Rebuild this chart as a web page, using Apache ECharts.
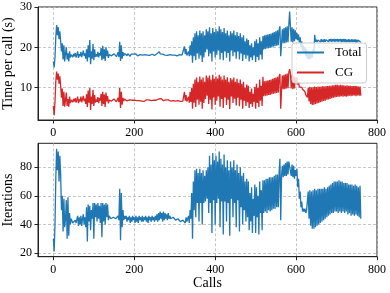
<!DOCTYPE html>
<html><head><meta charset="utf-8">
<script src="https://cdn.jsdelivr.net/npm/echarts@6/dist/echarts.min.js"></script>
<style>html,body{margin:0;padding:0;background:#fff}#c{width:390px;height:293px}</style>
</head><body><div id="c"></div>
<script>
// sampled every 2 calls, starting at call 0
const callStep = 2;
const xTicks = [0, 200, 400, 600, 800];
const timeTicks = [10, 20, 30];
const iterTicks = [20, 40, 60, 80];

const totalTime = [
16.5,15.0,17.5,22.5,25.5,23.0,25.0,22.0,24.0,21.5,
19.0,21.0,17.0,20.5,16.5,18.5,20.0,17.0,18.5,16.5,
19.0,17.5,18.2,18.0,17.6,18.4,17.8,18.6,17.5,18.2,
19.0,17.4,18.3,17.8,18.9,17.6,18.4,19.2,17.9,18.5,
17.2,19.5,16.5,20.5,17.5,21.8,15.8,19.0,17.2,20.8,
16.8,19.5,17.6,18.3,17.7,18.9,17.5,18.6,18.0,19.8,
16.8,20.4,17.2,19.5,16.6,20.0,17.8,19.2,17.4,18.2,
17.8,18.5,17.9,18.3,17.6,18.4,18.0,18.6,17.7,18.2,
18.8,17.6,21.4,16.6,20.5,17.2,18.8,17.9,18.5,18.1,
18.3,17.9,18.4,18.0,18.2,17.8,18.3,18.1,17.9,18.3,
18.2,18.0,18.4,18.1,17.9,18.3,18.0,18.2,18.4,18.0,
18.1,18.3,17.9,18.2,18.0,18.3,18.1,17.9,18.2,18.0,
18.2,18.1,18.3,17.9,18.2,18.0,18.3,18.1,18.4,18.2,
18.5,18.9,18.4,18.7,18.2,18.3,18.0,18.4,18.1,18.3,
18.2,18.0,18.3,18.1,18.2,17.9,18.2,18.1,18.0,18.2,
18.1,18.0,18.2,17.9,18.1,18.0,18.2,17.9,18.0,18.1,
18.0,18.2,20.2,18.3,19.6,18.0,18.5,19.0,17.8,20.5,
18.0,21.5,16.2,22.5,17.8,23.5,16.8,24.0,18.5,23.0,
17.2,24.2,18.0,23.5,16.4,24.0,17.5,23.0,18.8,24.5,
19.5,24.0,17.8,25.0,18.5,23.5,16.5,24.8,19.0,23.8,
17.5,24.5,18.2,24.0,19.2,25.2,17.0,24.5,18.6,23.8,
16.8,24.8,19.0,23.5,17.4,24.2,18.6,23.0,16.5,24.0,
19.2,23.5,17.8,24.2,18.8,23.0,17.2,23.8,19.0,22.8,
17.0,23.5,18.5,22.5,16.6,23.0,18.2,21.5,17.2,22.2,
18.0,21.8,16.5,20.5,17.5,21.0,16.8,20.0,18.0,21.5,
16.4,22.0,17.6,21.0,16.8,22.5,18.2,21.5,17.0,22.8,
19.5,23.0,19.6,23.1,19.7,23.2,19.8,23.3,19.9,23.4,
20.0,23.6,20.2,23.8,20.3,24.0,20.4,24.2,20.5,24.3,
25.2,17.8,20.8,24.5,21.0,24.8,21.0,25.0,21.2,25.2,
21.3,25.5,28.9,25.2,21.4,25.0,21.2,24.6,21.5,24.2,
22.0,23.6,21.8,23.2,21.2,22.5,20.0,21.5,19.2,20.5,
18.5,20.0,17.8,19.5,17.2,19.0,17.0,18.6,17.2,18.8,
17.5,19.5,18.5,23.1,21.4,21.9,21.3,21.8,21.4,22.0,
21.3,22.0,21.4,21.9,21.3,22.0,21.4,21.9,21.5,22.0,
21.4,22.0,21.5,22.1,21.4,22.0,21.5,22.1,21.4,22.0,
21.5,22.1,21.4,22.0,21.5,22.1,21.3,22.0,21.4,22.1,
21.4,22.0,21.3,21.9,21.4,22.0,21.3,21.9,21.4,22.0,
21.3,21.9,21.4,22.0,21.2,21.9,21.3,21.8,21.4,21.9,
21.2];

const cgTime = [
5.5,3.2,6.5,11.5,14.0,12.0,13.5,11.0,12.8,10.5,
7.5,9.8,5.5,9.0,5.3,7.0,8.8,5.5,7.2,5.3,
7.8,6.2,7.0,6.9,6.4,7.2,6.6,7.4,6.3,7.0,
7.8,6.2,7.1,6.6,7.8,6.4,7.2,8.0,6.7,7.3,
6.0,8.4,5.2,9.3,6.3,9.9,4.5,7.8,6.0,9.5,
5.5,8.2,6.3,7.1,6.5,7.7,6.2,7.4,6.8,8.5,
5.5,9.0,6.0,8.3,5.2,8.8,6.6,7.9,6.1,6.9,
6.6,7.3,6.7,7.1,6.4,7.2,6.8,7.4,6.5,7.0,
7.5,6.4,9.9,5.0,9.0,5.8,7.5,6.7,7.2,6.9,
7.0,6.7,7.1,6.8,7.0,6.6,7.1,6.9,6.7,7.0,
6.9,6.7,7.1,6.8,6.6,7.0,6.8,6.9,7.1,6.7,
6.9,7.0,6.6,6.9,6.8,7.0,6.9,6.7,7.0,6.8,
7.0,6.8,7.0,6.7,6.9,6.8,7.1,6.9,7.1,6.9,
7.2,7.4,7.0,7.3,6.9,7.0,6.8,7.1,6.8,7.0,
6.9,6.8,7.0,6.9,6.9,6.7,7.0,6.8,6.8,6.9,
6.8,6.7,6.9,6.6,6.8,6.7,6.9,6.6,6.7,6.8,
6.7,6.9,9.0,6.8,8.2,6.6,7.2,7.8,6.3,9.0,
6.5,10.0,4.8,11.0,6.3,12.0,5.2,12.5,7.0,11.5,
5.8,12.8,6.5,12.0,4.8,12.5,6.2,11.5,7.2,13.0,
8.0,12.5,6.0,13.0,7.0,12.0,4.6,13.2,7.6,12.2,
5.8,12.8,6.8,12.3,7.8,13.2,5.3,12.8,7.2,12.0,
5.0,13.0,7.6,12.0,5.7,12.6,7.0,11.5,4.7,12.4,
7.8,12.0,6.2,12.5,7.3,11.5,5.6,12.2,7.5,11.2,
5.4,12.0,7.0,11.0,4.8,11.5,6.8,10.0,5.5,10.8,
6.4,10.5,5.0,9.0,6.0,9.8,5.3,8.5,6.5,10.2,
4.8,11.0,6.2,10.0,5.2,12.0,6.8,10.5,5.5,12.7,
7.9,11.6,8.0,11.7,8.0,11.8,8.2,11.9,8.2,12.0,
8.4,12.2,8.5,12.4,8.6,12.5,8.7,12.7,8.8,12.8,
13.4,4.8,9.4,13.0,9.6,13.2,9.6,13.3,9.8,13.5,
9.9,13.8,14.6,13.5,9.8,13.2,9.6,12.8,9.8,12.5,
11.5,12.5,10.8,11.4,10.2,10.6,9.9,10.1,9.6,9.9,
9.4,9.0,8.2,7.8,7.6,10.0,6.6,10.2,6.0,10.1,
5.7,10.2,5.8,10.3,6.0,10.2,6.1,10.3,6.2,10.2,
6.4,10.3,6.5,10.4,6.7,10.3,6.8,10.4,7.0,10.4,
7.1,10.5,7.2,10.5,7.4,10.6,7.5,10.6,7.6,10.7,
7.7,10.7,7.8,10.6,7.8,10.7,7.9,10.6,7.8,10.6,
7.9,10.5,7.8,10.6,7.9,10.5,8.0,10.5,7.9,10.4,
8.0,10.4,8.1,10.5,7.9,10.4,8.1,10.3,8.0,10.3,
8.0];

const iterations = [
30,21,40,72,93,78,91,70,88,75,
50,60,35,58,38,44,57,30,59,32,
48,40,44,43,41,42,40,43,41,42,
46,39,45,40,46,39,44,47,40,45,
38,52,28,54,42,53,36,50,44,55,
30,55,45,54,42,55,44,53,41,55,
31,55,42,54,40,55,45,54,43,46,
45,44,45,44,45,44,45,44,44,45,
46,43,65,29,62,38,50,43,46,44,
46,42,45,43,46,41,45,42,46,43,
45,41,46,42,45,41,46,43,45,42,
46,42,45,43,46,42,45,41,46,43,
45,42,46,43,45,42,46,43,47,42,
48,43,49,44,48,42,49,43,48,44,
47,43,48,44,46,44,45,44,45,44,
44,43,44,43,44,43,43,42,43,43,
43,42,44,41,45,42,44,46,41,50,
44,62,30,70,50,78,45,79,55,76,
42,79,55,76,40,78,55,74,56,78,
58,80,48,88,55,82,34,90,57,85,
40,88,55,84,58,91,38,86,56,82,
33,89,56,80,42,85,55,78,32,84,
58,80,45,85,55,78,38,82,57,76,
35,80,52,74,40,76,50,70,42,72,
45,70,36,62,42,66,34,58,46,68,
34,66,45,60,33,70,48,64,36,71,
48,71,49,72,48,72,50,73,49,73,
50,73,51,74,51,75,52,75,52,76,
86,43,74,81,73,82,74,83,74,84,
75,84,85,83,74,82,73,81,72,78,
74,79,66,72,58,63,52,56,49,51,
49,51,48,50,49,63,44,64,39,63,
37,64,37,65,38,64,39,65,40,65,
41,65,42,65,43,66,44,65,45,66,
46,67,47,68,48,69,48,70,49,70,
49,70,48,71,49,70,48,70,49,69,
48,69,49,69,47,68,48,68,46,68,
47,67,46,68,47,67,46,66,45,67,
44];

const pairs = arr => arr.map((v, i) => [i * callStep, v]);
const FONT = 'Liberation Serif';
const txt = {fontFamily: FONT, color: '#000', fontSize: 12};

function xAx(idx, withName) {
  return {
    gridIndex: idx, type: 'value', min: -38, max: 800, interval: 200,
    axisLine: {show: true, onZero: false, lineStyle: {color: '#222', width: 1}},
    axisTick: {show: true, length: 3.5, inside: false, lineStyle: {color: '#222'},
               customValues: xTicks},
    axisLabel: Object.assign({margin: 7, customValues: xTicks}, txt),
    splitLine: {show: true, lineStyle: {color: '#b8b8b8', type: [3, 2], width: 0.8}},
    name: withName ? 'Calls' : '', nameLocation: 'middle', nameGap: 20, nameMoveOverlap: false,
    nameTextStyle: {fontFamily: FONT, color: '#000', fontSize: 14}
  };
}
function yAx(idx, min, max, interval, ticks, name) {
  return {
    gridIndex: idx, type: 'value', min: min, max: max, interval: interval,
    axisLine: {show: true, onZero: false, lineStyle: {color: '#222', width: 1}},
    axisTick: {show: true, length: 3.5, inside: false, lineStyle: {color: '#222'},
               customValues: ticks},
    axisLabel: Object.assign({margin: 6, customValues: ticks}, txt),
    splitLine: {show: true, lineStyle: {color: '#b8b8b8', type: [3, 2], width: 0.8}},
    name: name, nameLocation: 'middle', nameGap: 23, nameRotate: 90, nameMoveOverlap: false,
    nameTextStyle: {fontFamily: FONT, color: '#000', fontSize: 14}
  };
}

const chart = echarts.init(document.getElementById('c'), null, {renderer: 'canvas'});
chart.setOption({
  animation: false,
  backgroundColor: '#fff',
  grid: [
    {left: 38, top: 7, width: 339, height: 113, show: true, borderColor: '#222', borderWidth: 1,
     backgroundColor: 'transparent', containLabel: false, outerBoundsMode: 'none'},
    {left: 38, top: 143.3, width: 339, height: 113.4, show: true, borderColor: '#222', borderWidth: 1,
     backgroundColor: 'transparent', containLabel: false, outerBoundsMode: 'none'}
  ],
  xAxis: [xAx(0, false), xAx(1, true)],
  yAxis: [
    yAx(0, 2, 30, 10, timeTicks, 'Time per call (s)'),
    yAx(1, 17.4, 96.8, 20, iterTicks, 'Iterations')
  ],
  legend: {
    data: ['Total', 'CG'], orient: 'vertical', left: 292, top: 43,
    icon: 'rect', itemWidth: 27, itemHeight: 2, itemGap: 7,
    padding: [3, 5, 4, 5],
    backgroundColor: 'rgba(255,255,255,0.8)', borderColor: '#cccccc', borderWidth: 1, borderRadius: 3,
    textStyle: {fontFamily: FONT, color: '#000', fontSize: 13, padding: [0, 0, 0, 6]}
  },
  series: [
    {name: 'Total', type: 'line', xAxisIndex: 0, yAxisIndex: 0, data: pairs(totalTime),
     showSymbol: false, symbol: 'none', color: '#1f77b4', lineStyle: {width: 1.3, color: '#1f77b4'}, z: 2},
    {name: 'CG', type: 'line', xAxisIndex: 0, yAxisIndex: 0, data: pairs(cgTime),
     showSymbol: false, symbol: 'none', color: '#d62728', lineStyle: {width: 1.3, color: '#d62728'}, z: 2},
    {name: 'Iterations', type: 'line', xAxisIndex: 1, yAxisIndex: 1, data: pairs(iterations),
     showSymbol: false, symbol: 'none', color: '#1f77b4', lineStyle: {width: 1.3, color: '#1f77b4'}, z: 2}
  ]
});
</script></body></html>
